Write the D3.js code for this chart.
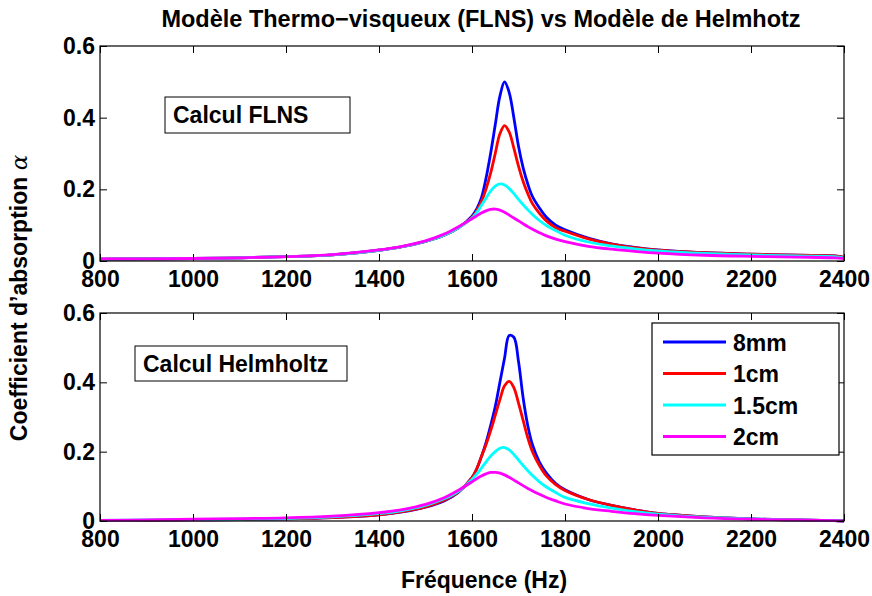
<!DOCTYPE html>
<html lang="fr">
<head>
    <meta charset="UTF-8">
    <title>Modèle Thermo-visqueux (FLNS) vs Modèle de Helmhotz</title>
    <style>
        html,body{
            margin:0;
            background:#fff;
            overflow:hidden;
        }
        text{
            font-family:"Liberation Sans", Arial, Helvetica, sans-serif;
            font-weight:bold;
        }
    </style>
</head>
<body>
    <svg id="svg"></svg>
    <script src="https://d3js.org/d3.v7.min.js"></script>
    <script>
        // frequencies (Hz) where the curves were read
        const freq = [800, 900, 1000, 1100, 1200, 1300, 1400, 1450, 1500, 1540, 1570, 1600, 1610, 1620, 1630, 1640,
                      1650, 1660, 1670, 1680, 1690, 1700, 1710, 1720, 1730, 1745, 1760, 1780, 1800, 1850, 1900, 1950,
                      2000, 2100, 2200, 2300, 2380, 2400];

        // top panel : Calcul FLNS
        const flns8mm  = [.005,.006,.007,.009,.012,.017,.030,.040,.055,.072,.092,.125,.145,.175,.230,.300,
                          .380,.460,.500,.470,.400,.320,.260,.215,.180,.148,.122,.100,.087,.064,.048,.038,
                          .031,.023,.019,.016,.014,.010];
        const flns1cm  = [.005,.006,.007,.009,.012,.017,.030,.040,.055,.072,.092,.122,.140,.165,.200,.245,
                          .300,.355,.378,.360,.315,.265,.222,.188,.160,.133,.112,.093,.083,.062,.047,.037,
                          .030,.023,.019,.016,.014,.010];
        const flns15cm = [.005,.006,.007,.009,.012,.017,.030,.040,.055,.072,.092,.120,.135,.155,.175,.195,
                          .209,.215,.212,.202,.188,.172,.157,.143,.130,.113,.099,.085,.072,.053,.042,.034,
                          .028,.021,.017,.014,.012,.009];
        const flns2cm  = [.006,.006,.007,.009,.012,.018,.031,.041,.056,.075,.095,.118,.126,.134,.140,.144,
                          .145,.142,.136,.128,.120,.112,.104,.096,.089,.079,.070,.061,.054,.041,.033,.027,
                          .022,.016,.013,.011,.009,.007];

        // bottom panel : Calcul Helmholtz
        const helm8mm  = [.001,.002,.003,.004,.006,.010,.018,.026,.040,.058,.082,.125,.150,.185,.225,.275,
                          .330,.400,.470,.535,.530,.460,.355,.275,.220,.170,.138,.108,.090,.062,.045,.032,
                          .022,.012,.006,.003,.001,0];
        const helm1cm  = [.001,.002,.003,.004,.006,.010,.018,.027,.041,.060,.083,.125,.150,.185,.220,.260,
                          .305,.350,.390,.403,.385,.340,.290,.240,.200,.160,.130,.105,.088,.062,.045,.032,
                          .022,.012,.006,.003,.001,0];
        const helm15cm = [.002,.003,.004,.005,.007,.012,.021,.030,.045,.064,.085,.120,.135,.152,.170,.187,
                          .200,.210,.212,.205,.192,.176,.160,.145,.131,.113,.098,.082,.068,.050,.037,.027,
                          .020,.011,.006,.003,.001,0];
        const helm2cm  = [.002,.003,.005,.007,.009,.014,.024,.033,.048,.067,.088,.113,.122,.130,.136,.140,
                          .140,.138,.133,.126,.118,.110,.102,.094,.087,.077,.068,.058,.049,.036,.028,.021,
                          .016,.009,.005,.003,.001,0];

        const seriesNames = ['8mm', '1cm', '1.5cm', '2cm'];
        const seriesColors = ['#0000ff', '#ff0000', '#00ffff', '#ff00ff'];
        const xTicks = [800, 1000, 1200, 1400, 1600, 1800, 2000, 2200, 2400];
        const yTicks = [0, 0.2, 0.4, 0.6];

        const svg = d3.select('#svg')
            .attr('width', 872)
            .attr('height', 596);

        const left = 100, right = 844;
        const fontSize = 23;
        const panels = [
            { top: 46, bottom: 261, note: 'Calcul FLNS', noteBox: [165, 97, 185, 36],
              series: [flns8mm, flns1cm, flns15cm, flns2cm] },
            { top: 313, bottom: 521, note: 'Calcul Helmholtz', noteBox: [135, 346, 212, 35],
              series: [helm8mm, helm1cm, helm15cm, helm2cm], legend: true }
        ];

        const xScale = d3.scaleLinear().domain([800, 2400]).range([left, right]);

        const drawPanel = (p) => {
            const yScale = d3.scaleLinear().domain([0, 0.6]).range([p.bottom, p.top]);
            const g = svg.append('g');

            const line = d3.line()
                .x((d, i) => xScale(freq[i]))
                .y(d => yScale(d))
                .curve(d3.curveCatmullRom.alpha(0.5));

            p.series.forEach((s, k) => {
                g.append('path')
                    .datum(s)
                    .attr('d', line)
                    .attr('fill', 'none')
                    .attr('stroke', seriesColors[k])
                    .attr('stroke-width', 2.8);
            });

            // axes, ticks inward like matlab
            const xb = g.append('g').attr('transform', `translate(0,${p.bottom})`)
                .call(d3.axisBottom(xScale).tickValues(xTicks).tickSize(-7).tickPadding(10).tickFormat(d3.format('d')));
            const xt = g.append('g').attr('transform', `translate(0,${p.top})`)
                .call(d3.axisTop(xScale).tickValues(xTicks).tickSize(-7).tickFormat(''));
            const yl = g.append('g').attr('transform', `translate(${left},0)`)
                .call(d3.axisLeft(yScale).tickValues(yTicks).tickSize(-7).tickPadding(5).tickFormat(d => d === 0 ? '0' : d3.format('.1f')(d)));
            const yr = g.append('g').attr('transform', `translate(${right},0)`)
                .call(d3.axisRight(yScale).tickValues(yTicks).tickSize(-7).tickFormat(''));
            [xb, xt, yl, yr].forEach(a => {
                a.select('.domain').remove();
                a.selectAll('line').attr('stroke', '#000');
                a.selectAll('text').attr('font-size', fontSize).attr('fill', '#000')
                    .attr('font-family', '"Liberation Sans", Arial, sans-serif').attr('font-weight', 'bold');
            });

            g.append('rect')
                .attr('x', left).attr('y', p.top)
                .attr('width', right - left).attr('height', p.bottom - p.top)
                .attr('fill', 'none').attr('stroke', '#000').attr('stroke-width', 1.2);

            // annotation box
            const [bx, by, bw, bh] = p.noteBox;
            g.append('rect')
                .attr('x', bx).attr('y', by).attr('width', bw).attr('height', bh)
                .attr('fill', '#fff').attr('stroke', '#000').attr('stroke-width', 1);
            g.append('text')
                .attr('x', bx + 8).attr('y', by + 26)
                .attr('font-size', fontSize)
                .text(p.note);

            if (p.legend) {
                const lg = g.append('g');
                lg.append('rect')
                    .attr('x', 652).attr('y', 323).attr('width', 187).attr('height', 132)
                    .attr('fill', '#fff').attr('stroke', '#000').attr('stroke-width', 1.2);
                seriesNames.forEach((name, k) => {
                    const ly = 342 + k * 31.5;
                    lg.append('line')
                        .attr('x1', 663).attr('x2', 726)
                        .attr('y1', ly).attr('y2', ly)
                        .attr('stroke', seriesColors[k]).attr('stroke-width', 2.8);
                    lg.append('text')
                        .attr('x', 733).attr('y', ly + 8.5)
                        .attr('font-size', fontSize)
                        .text(name);
                });
            }
        };

        panels.forEach(drawPanel);

        svg.append('text')
            .attr('x', 481).attr('y', 27)
            .attr('text-anchor', 'middle')
            .attr('font-size', 23.5)
            .text('Modèle Thermo−visqueux (FLNS) vs Modèle de Helmhotz');

        svg.append('text')
            .attr('x', 484).attr('y', 588)
            .attr('text-anchor', 'middle')
            .attr('font-size', fontSize)
            .text('Fréquence (Hz)');

        const ylab = svg.append('text')
            .attr('transform', 'translate(27,298) rotate(-90)')
            .attr('text-anchor', 'middle')
            .attr('font-size', fontSize);
        ylab.append('tspan').text('Coefficient d’absorption ');
        ylab.append('tspan')
            .attr('font-family', '"DejaVu Serif", "Liberation Serif", serif')
            .attr('font-style', 'italic')
            .attr('font-weight', 'normal')
            .text('α');
    </script>
</body>
</html>
